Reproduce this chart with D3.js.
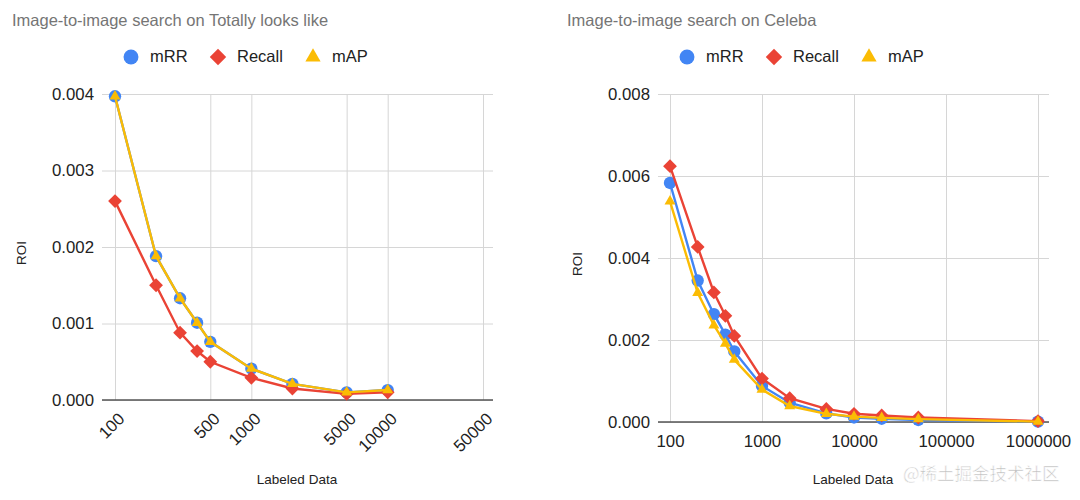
<!DOCTYPE html>
<html>
<head>
<meta charset="utf-8">
<script src="https://cdn.jsdelivr.net/npm/d3@7"></script>
<style>
  body { margin: 0; background: #fff; }
  svg { font-family: "Liberation Sans", Arial, sans-serif; }
  .grid line { stroke: #d6d6d6; stroke-width: 1; }
  .grid .domain { display: none; }
  .tick text { fill: #222; font-size: 16.8px; }
</style>
</head>
<body>
<svg id="chart" width="1080" height="500"></svg>
<script>
"use strict";

// series names in legend order
var seriesNames = ["mRR", "Recall", "mAP"];
var seriesColors = ["#4285F4", "#EA4335", "#FBBC04"];

// --- left chart : Totally looks like ---
var leftX = [100, 200, 300, 400, 500, 1000, 2000, 5000, 10000];
var leftMRR = [0.00397, 0.00188, 0.00133, 0.00101, 0.00076, 0.00041, 0.00021, 0.00010, 0.00013];
var leftRecall = [0.00260, 0.00150, 0.00088, 0.00064, 0.00050, 0.00029, 0.00015, 0.00008, 0.00010];
var leftMAP = [0.00397, 0.00188, 0.00133, 0.00101, 0.00076, 0.00041, 0.00021, 0.00010, 0.00013];
var leftXTicks = [100, 500, 1000, 5000, 10000, 50000];
var leftYTicks = [0, 0.001, 0.002, 0.003, 0.004];

// --- right chart : Celeba ---
var rightX = [100, 200, 300, 400, 500, 1000, 2000, 5000, 10000, 20000, 50000, 1000000];
var rightMRR = [0.00583, 0.00345, 0.00263, 0.00213, 0.00172, 0.00088, 0.00047, 0.00021, 0.00011, 0.00008, 0.00005, 0.00001];
var rightRecall = [0.00624, 0.00427, 0.00316, 0.00259, 0.00210, 0.00106, 0.00058, 0.00032, 0.00020, 0.00016, 0.00011, 0.00002];
var rightMAP = [0.00538, 0.00315, 0.00236, 0.00191, 0.00152, 0.00079, 0.00039, 0.00020, 0.00013, 0.00010, 0.00007, 0.00001];
var rightXTicks = [100, 1000, 10000, 100000, 1000000];
var rightYTicks = [0, 0.002, 0.004, 0.006, 0.008];

var svg = d3.select("#chart");

// marker shapes: circle, rotated square, triangle
function markerPath(i, size) {
  var types = [d3.symbolCircle, d3.symbolSquare, d3.symbolTriangle];
  return d3.symbol().type(types[i]).size(size)();
}
function markerRotate(i) {
  return i === 1 ? " rotate(45)" : "";
}

function drawChart(opt) {
  var g = svg.append("g");

  var x = d3.scaleLog().domain(opt.xDomain).range(opt.xRange);
  var y = d3.scaleLinear().domain(opt.yDomain).range(opt.yRange);

  // title
  g.append("text")
    .attr("x", opt.titleX).attr("y", 26)
    .attr("fill", "#757575")
    .style("font-size", "16.5px")
    .text(opt.title);

  // legend
  seriesNames.forEach(function (name, i) {
    var lx = opt.legendX[i];
    g.append("path")
      .attr("d", markerPath(i, [175, 135, 100][i]))
      .attr("transform", "translate(" + lx + ",57)" + markerRotate(i))
      .attr("fill", seriesColors[i]);
    g.append("text")
      .attr("x", lx + 19).attr("y", 62)
      .attr("fill", "#222")
      .style("font-size", "16.5px")
      .text(name);
  });

  // horizontal gridlines + y labels
  var yAxis = d3.axisLeft(y)
    .tickValues(opt.yTicks)
    .tickFormat(d3.format(".3f"))
    .tickSize(-(opt.base[1] - opt.base[0]))
    .tickPadding(8);
  g.append("g")
    .attr("class", "grid")
    .attr("transform", "translate(" + opt.base[0] + ",0)")
    .call(yAxis);

  // vertical gridlines + x labels
  var xAxis = d3.axisBottom(x)
    .tickValues(opt.xTicks)
    .tickFormat(d3.format("d"))
    .tickSize(-(opt.yRange[0] - opt.yRange[1]))
    .tickPadding(opt.rotate ? 0 : 13);
  var xg = g.append("g")
    .attr("class", "grid")
    .attr("transform", "translate(0," + opt.yRange[0] + ")")
    .call(xAxis);
  if (opt.rotate) {
    xg.selectAll(".tick text")
      .attr("text-anchor", "end")
      .attr("dy", null)
      .attr("y", null)
      .attr("transform", "translate(10,20) rotate(-45)");
  }

  // baseline
  g.append("line")
    .attr("x1", opt.base[0]).attr("x2", opt.base[1])
    .attr("y1", y(0)).attr("y2", y(0))
    .attr("stroke", "#555").attr("stroke-width", 1.4);

  // axis titles
  g.append("text")
    .attr("transform", "translate(" + opt.roiX + "," + ((opt.yRange[0] + opt.yRange[1]) / 2 + 6) + ") rotate(-90)")
    .attr("text-anchor", "middle")
    .attr("fill", "#222")
    .style("font-size", "13.5px")
    .text("ROI");
  g.append("text")
    .attr("x", opt.labelX).attr("y", 484)
    .attr("text-anchor", "middle")
    .attr("fill", "#222")
    .style("font-size", "13.5px")
    .text("Labeled Data");

  // lines and markers
  var line = d3.line()
    .x(function (d) { return x(d.x); })
    .y(function (d) { return y(d.y); });

  opt.series.forEach(function (vals, i) {
    var pts = opt.xVals.map(function (xv, j) { return { x: xv, y: vals[j] }; });
    g.append("path")
      .datum(pts)
      .attr("fill", "none")
      .attr("stroke", seriesColors[i])
      .attr("stroke-width", 2.4)
      .attr("d", line);
    g.selectAll(".m" + i)
      .data(pts)
      .enter()
      .append("path")
        .attr("class", "m" + i)
        .attr("d", markerPath(i, [120, 95, 52][i]))
        .attr("transform", function (d) {
          return "translate(" + x(d.x) + "," + y(d.y) + ")" + markerRotate(i);
        })
        .attr("fill", seriesColors[i]);
  });
}

drawChart({
  title: "Image-to-image search on Totally looks like",
  titleX: 12,
  legendX: [131, 218, 313],
  xVals: leftX,
  series: [leftMRR, leftRecall, leftMAP],
  xTicks: leftXTicks,
  yTicks: leftYTicks,
  xDomain: [100, 50000],
  xRange: [115, 483],
  yDomain: [0, 0.004],
  yRange: [400, 94],
  base: [102, 493],
  rotate: true,
  roiX: 26,
  labelX: 297
});

drawChart({
  title: "Image-to-image search on Celeba",
  titleX: 567,
  legendX: [687, 774, 869],
  xVals: rightX,
  series: [rightMRR, rightRecall, rightMAP],
  xTicks: rightXTicks,
  yTicks: rightYTicks,
  xDomain: [100, 1000000],
  xRange: [670, 1038],
  yDomain: [0, 0.008],
  yRange: [422, 94],
  base: [658, 1049],
  rotate: false,
  roiX: 582,
  labelX: 853
});

// watermark
svg.append("text")
  .attr("x", 903).attr("y", 480)
  .attr("fill", "#bdbdbd")
  .attr("stroke", "#fff").attr("stroke-width", 0.6)
  .style("font-family", "'Noto Sans CJK SC', sans-serif")
  .style("font-size", "17.5px")
  .text("@稀土掘金技术社区");
</script>
</body>
</html>
